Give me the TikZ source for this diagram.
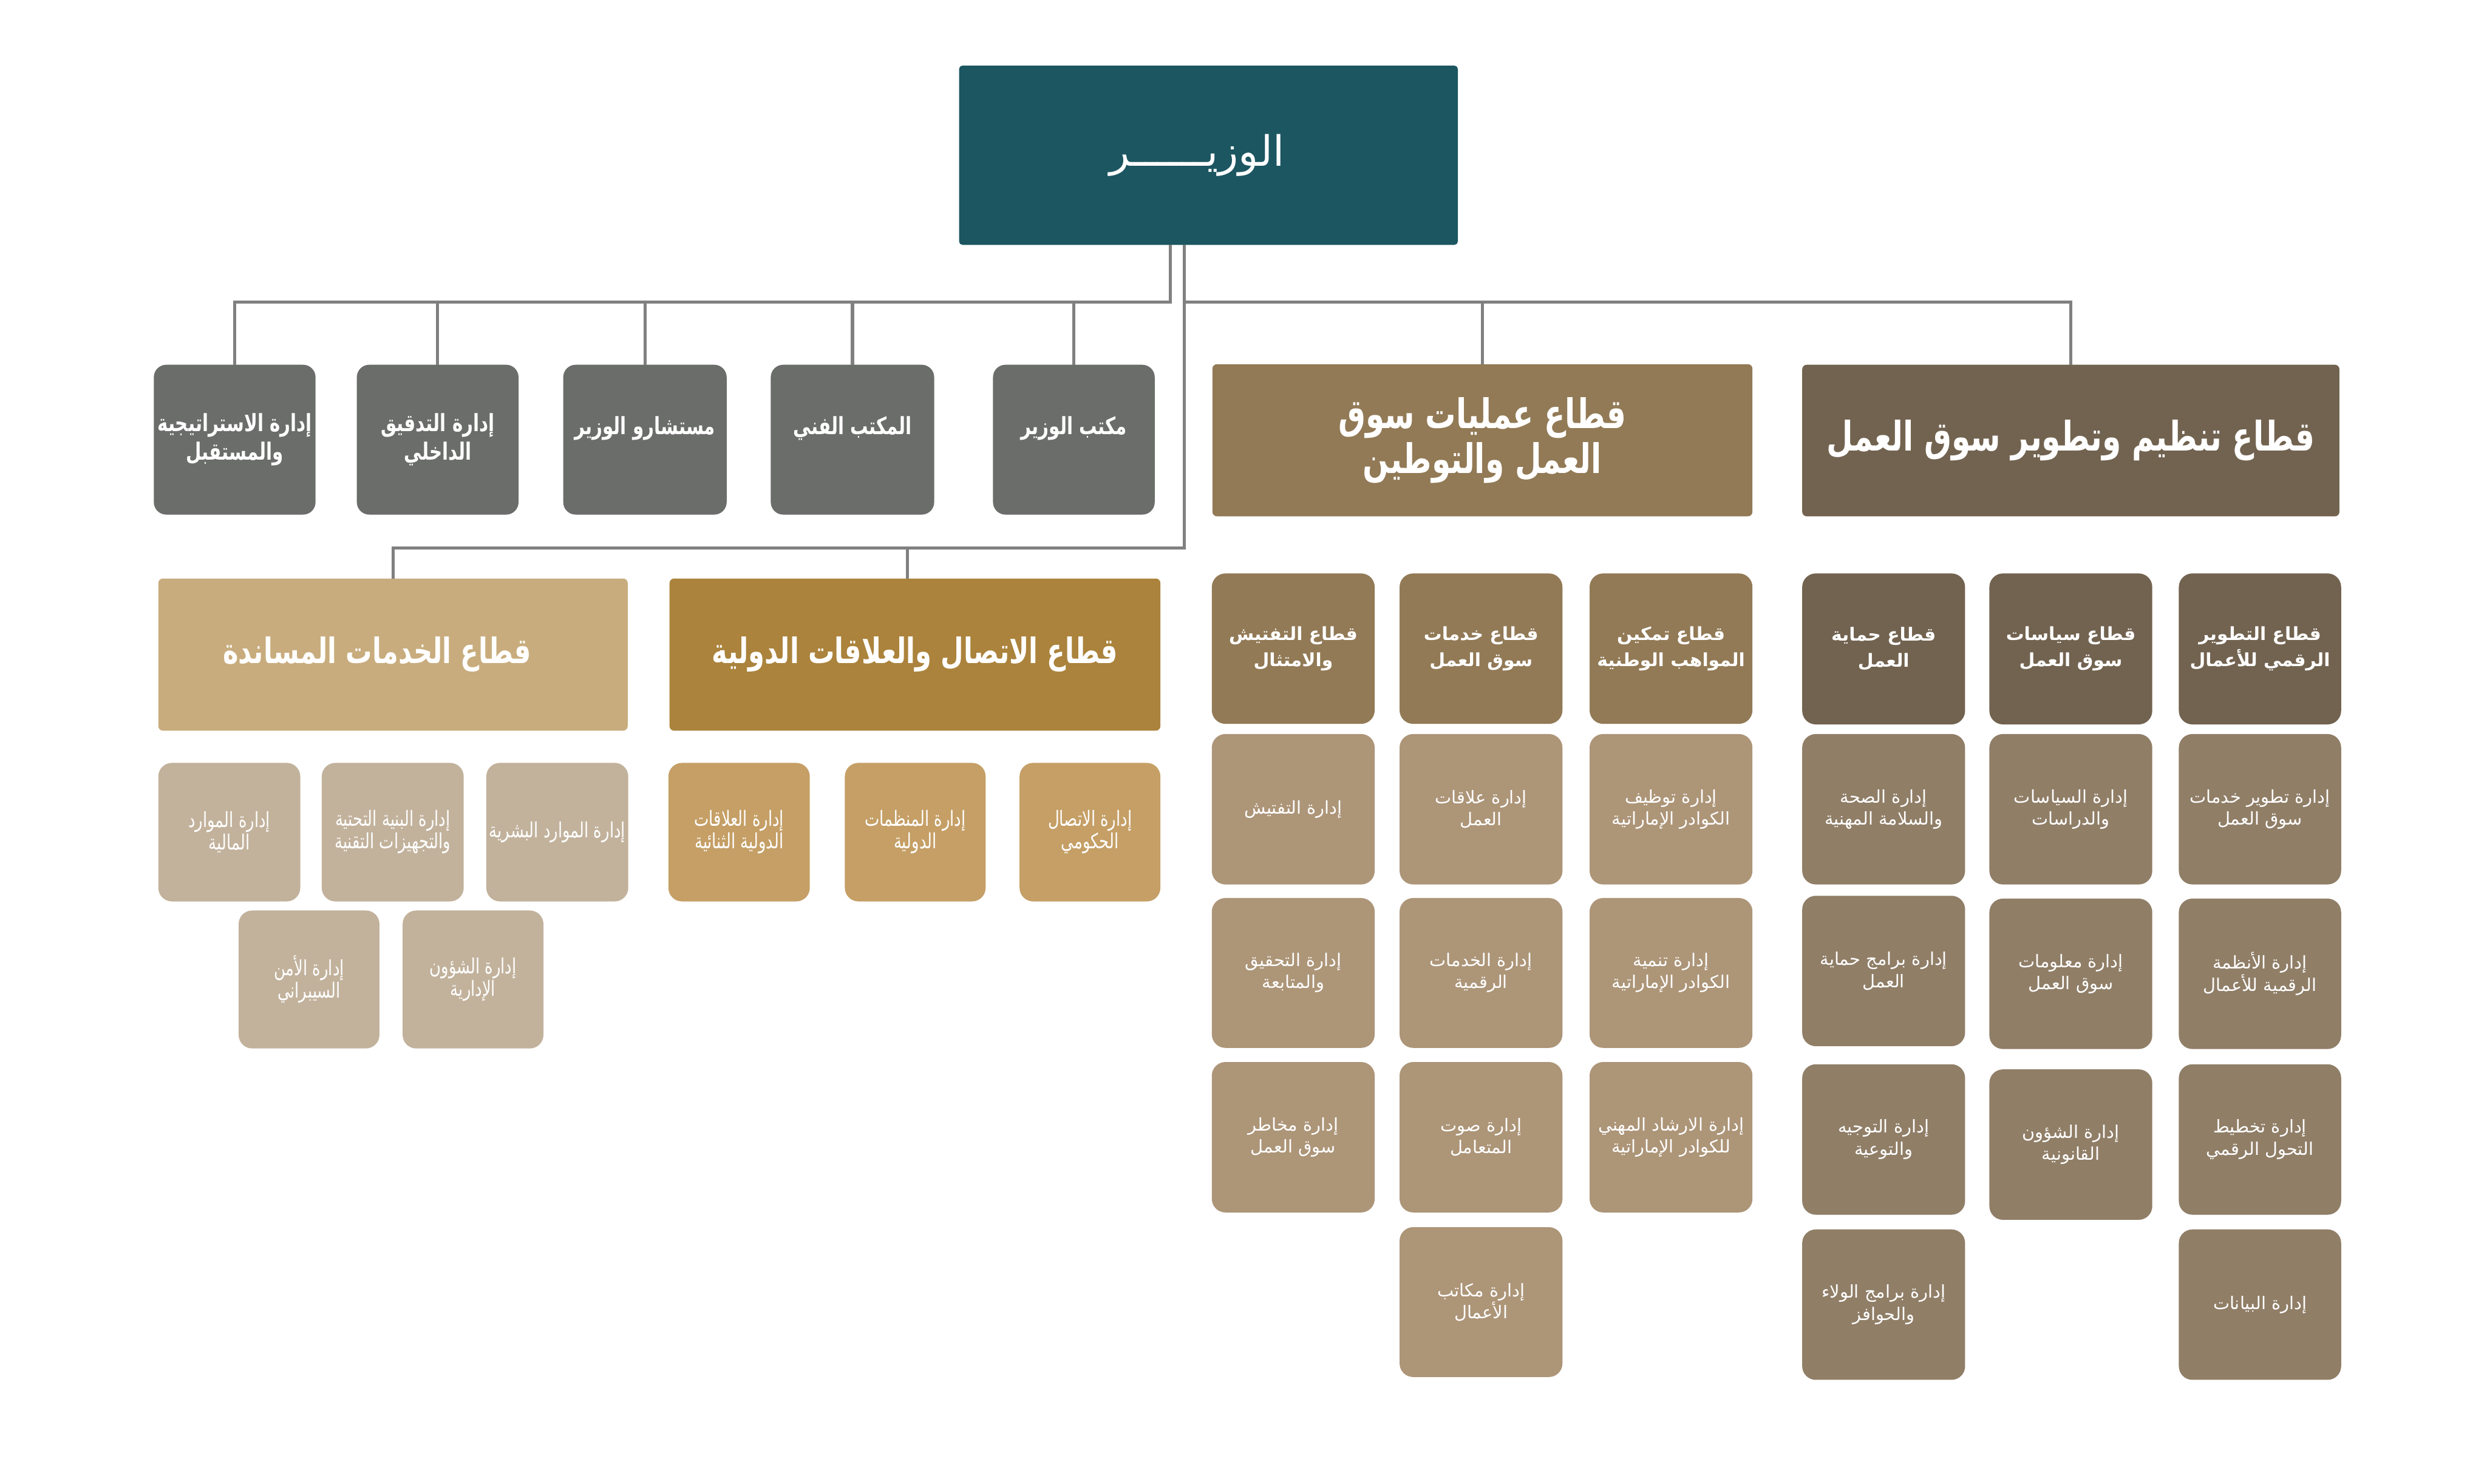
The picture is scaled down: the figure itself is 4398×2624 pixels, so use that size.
\documentclass[tikz,border=0pt]{standalone}
\usepackage{fontspec}
\TeXXeTstate=1
\newfontfamily\arf[Script=Arabic]{DejaVu Sans}
\newfontfamily\arc[Script=Arabic,FakeStretch=0.75]{DejaVu Sans}
\newcommand\ar[1]{\beginR #1\endR}
\newcommand\up[2]{\raisebox{#1}{#2}}
\definecolor{minc}{HTML}{1C5661}
\definecolor{grayc}{HTML}{6B6D6B}
\definecolor{opsc}{HTML}{927A56}
\definecolor{regc}{HTML}{726350}
\definecolor{supc}{HTML}{C8AC7D}
\definecolor{comc}{HTML}{AB833C}
\definecolor{supd}{HTML}{C2B29C}
\definecolor{comd}{HTML}{C59F66}
\definecolor{opsd}{HTML}{AD9578}
\definecolor{regd}{HTML}{907E67}
\definecolor{linec}{HTML}{808080}
\newcommand\bx[7]{\node[box,#6,minimum width={#4-#2},minimum height={#5-#3}] (#1) at ({(#2+#4)/2},{(#3+#5)/2}) {#7};}
\begin{document}
\begin{tikzpicture}[x=1pt,y=-1pt,
  box/.style={rectangle,inner sep=0pt,text=white,align=center},
  minbox/.style={fill=minc,rounded corners=6pt,font=\arf\fontsize{74}{86}\selectfont},
  graybox/.style={fill=grayc,rounded corners=22pt,font=\arc\bfseries\fontsize{42}{50}\selectfont},
  secbox/.style={rounded corners=8pt,font=\arc\bfseries\fontsize{72}{80}\selectfont},
  secboxb/.style={rounded corners=8pt,font=\arc\bfseries\fontsize{62}{72}\selectfont},
  subhead/.style={rounded corners=24pt,font=\arf\bfseries\fontsize{32}{46}\selectfont},
  dep/.style={rounded corners=24pt,font=\arf\fontsize{31}{39}\selectfont},
  cdep/.style={rounded corners=24pt,font=\arc\fontsize{37}{40}\selectfont},
  conn/.style={draw=linec,line width=5.5pt,line join=miter}]
\useasboundingbox[fill=white] (0,0) rectangle (4398,2624);
% minister
\bx{min}{1696}{116}{2578}{433}{minbox}{\ar{الوزيــــــر}\hspace*{40pt}}
% gray boxes
\bx{g1}{272}{645}{558}{910}{graybox}{\ar{إدارة الاستراتيجية}\\\ar{والمستقبل}}
\bx{g2}{631}{645}{917}{910}{graybox}{\ar{إدارة التدقيق}\\\ar{الداخلي}}
\bx{g3}{996}{645}{1285}{910}{graybox}{\up{50pt}{\ar{مستشارو الوزير}}}
\bx{g4}{1363}{645}{1652}{910}{graybox}{\up{50pt}{\ar{المكتب الفني}}}
\bx{g5}{1756}{645}{2042}{910}{graybox}{\up{50pt}{\ar{مكتب الوزير}}}
% sectors
\bx{ops}{2144}{644}{3099}{913}{secbox,fill=opsc}{\ar{قطاع عمليات سوق}\\\ar{العمل والتوطين}}
\bx{reg}{3187}{645}{4137}{913}{secbox,fill=regc}{\ar{قطاع تنظيم وتطوير سوق العمل}}
\bx{sup}{280}{1023}{1110}{1292}{secboxb,fill=supc}{\ar{قطاع الخدمات المساندة}\hspace*{56pt}}
\bx{com}{1184}{1023}{2052}{1292}{secboxb,fill=comc}{\ar{قطاع الاتصال والعلاقات الدولية}}
% support departments
\bx{s1}{280}{1349}{531}{1594}{cdep,fill=supd}{\ar{إدارة الموارد}\\\ar{المالية}}
\bx{s2}{569}{1349}{820}{1594}{cdep,fill=supd}{\ar{إدارة البنية التحتية}\\\ar{والتجهيزات التقنية}}
\bx{s3}{860}{1349}{1111}{1594}{cdep,fill=supd}{\ar{إدارة الموارد البشرية}}
\bx{s4}{422}{1610}{671}{1854}{cdep,fill=supd}{\ar{إدارة الأمن}\\\ar{السيبراني}}
\bx{s5}{712}{1610}{961}{1854}{cdep,fill=supd}{\ar{إدارة الشؤون}\\\ar{الإدارية}}
% communication departments
\bx{c1}{1182}{1349}{1432}{1594}{cdep,fill=comd}{\ar{إدارة العلاقات}\\\ar{الدولية الثنائية}}
\bx{c2}{1494}{1349}{1743}{1594}{cdep,fill=comd}{\ar{إدارة المنظمات}\\\ar{الدولية}}
\bx{c3}{1803}{1349}{2052}{1594}{cdep,fill=comd}{\ar{إدارة الاتصال}\\\ar{الحكومي}}
% operations column 1
\bx{o1h}{2143}{1014}{2431}{1280}{subhead,fill=opsc}{\ar{قطاع التفتيش}\\\ar{والامتثال}}
\bx{o1a}{2143}{1298}{2431}{1564}{dep,fill=opsd}{\ar{إدارة التفتيش}}
\bx{o1b}{2143}{1588}{2431}{1853}{dep,fill=opsd}{\ar{إدارة التحقيق}\\\ar{والمتابعة}}
\bx{o1c}{2143}{1878}{2431}{2144}{dep,fill=opsd}{\ar{إدارة مخاطر}\\\ar{سوق العمل}}
% operations column 2
\bx{o2h}{2475}{1014}{2763}{1280}{subhead,fill=opsc}{\ar{قطاع خدمات}\\\ar{سوق العمل}}
\bx{o2a}{2475}{1298}{2763}{1564}{dep,fill=opsd}{\ar{إدارة علاقات}\\\ar{العمل}}
\bx{o2b}{2475}{1588}{2763}{1853}{dep,fill=opsd}{\ar{إدارة الخدمات}\\\ar{الرقمية}}
\bx{o2c}{2475}{1878}{2763}{2144}{dep,fill=opsd}{\ar{إدارة صوت}\\\ar{المتعامل}}
\bx{o2d}{2475}{2170}{2763}{2435}{dep,fill=opsd}{\ar{إدارة مكاتب}\\\ar{الأعمال}}
% operations column 3
\bx{o3h}{2811}{1014}{3099}{1280}{subhead,fill=opsc}{\ar{قطاع تمكين}\\\ar{المواهب الوطنية}}
\bx{o3a}{2811}{1298}{3099}{1564}{dep,fill=opsd}{\ar{إدارة توظيف}\\\ar{الكوادر الإماراتية}}
\bx{o3b}{2811}{1588}{3099}{1853}{dep,fill=opsd}{\ar{إدارة تنمية}\\\ar{الكوادر الإماراتية}}
\bx{o3c}{2811}{1878}{3099}{2144}{dep,fill=opsd}{\ar{إدارة الارشاد المهني}\\\ar{للكوادر الإماراتية}}
% regulation column 1
\bx{e1h}{3187}{1014}{3475}{1281}{subhead,fill=regc}{\ar{قطاع حماية}\\\ar{العمل}}
\bx{e1a}{3187}{1298}{3475}{1564}{dep,fill=regd}{\ar{إدارة الصحة}\\\ar{والسلامة المهنية}}
\bx{e1b}{3187}{1584}{3475}{1850}{dep,fill=regd}{\ar{إدارة برامج حماية}\\\ar{العمل}}
\bx{e1c}{3187}{1882}{3475}{2148}{dep,fill=regd}{\ar{إدارة التوجيه}\\\ar{والتوعية}}
\bx{e1d}{3187}{2174}{3475}{2440}{dep,fill=regd}{\ar{إدارة برامج الولاء}\\\ar{والحوافز}}
% regulation column 2
\bx{e2h}{3518}{1014}{3806}{1281}{subhead,fill=regc}{\ar{قطاع سياسات}\\\ar{سوق العمل}}
\bx{e2a}{3518}{1298}{3806}{1564}{dep,fill=regd}{\ar{إدارة السياسات}\\\ar{والدراسات}}
\bx{e2b}{3518}{1589}{3806}{1855}{dep,fill=regd}{\ar{إدارة معلومات}\\\ar{سوق العمل}}
\bx{e2c}{3518}{1891}{3806}{2157}{dep,fill=regd}{\ar{إدارة الشؤون}\\\ar{القانونية}}
% regulation column 3
\bx{e3h}{3853}{1014}{4140}{1281}{subhead,fill=regc}{\ar{قطاع التطوير}\\\ar{الرقمي للأعمال}}
\bx{e3a}{3853}{1298}{4140}{1564}{dep,fill=regd}{\ar{إدارة تطوير خدمات}\\\ar{سوق العمل}}
\bx{e3b}{3853}{1589}{4140}{1855}{dep,fill=regd}{\ar{إدارة الأنظمة}\\\ar{الرقمية للأعمال}}
\bx{e3c}{3853}{1882}{4140}{2148}{dep,fill=regd}{\ar{إدارة تخطيط}\\\ar{التحول الرقمي}}
\bx{e3d}{3853}{2174}{4140}{2440}{dep,fill=regd}{\ar{إدارة البيانات}}
% connectors
\coordinate (mA) at ([xshift=-67pt]min.south);
\coordinate (mB) at ([xshift=-43pt]min.south);
\coordinate (busT) at (0,534);
\coordinate (busB) at (0,969);
\draw[conn] (mA) |- (g1.north |- busT) -- (g1.north);
\draw[conn] (g2.north |- busT) -- (g2.north);
\draw[conn] (g3.north |- busT) -- (g3.north);
\draw[conn] (g4.north |- busT) -- (g4.north);
\draw[conn] (g5.north |- busT) -- (g5.north);
\draw[conn] (mB) |- (sup.north |- busB) -- (sup.north);
\draw[conn] ([xshift=-13pt]com.north |- busB) -- ([xshift=-13pt]com.north);
\draw[conn] (mB |- busT) -| (reg.north);
\draw[conn] (ops.north |- busT) -- (ops.north);
\end{tikzpicture}
\end{document}
